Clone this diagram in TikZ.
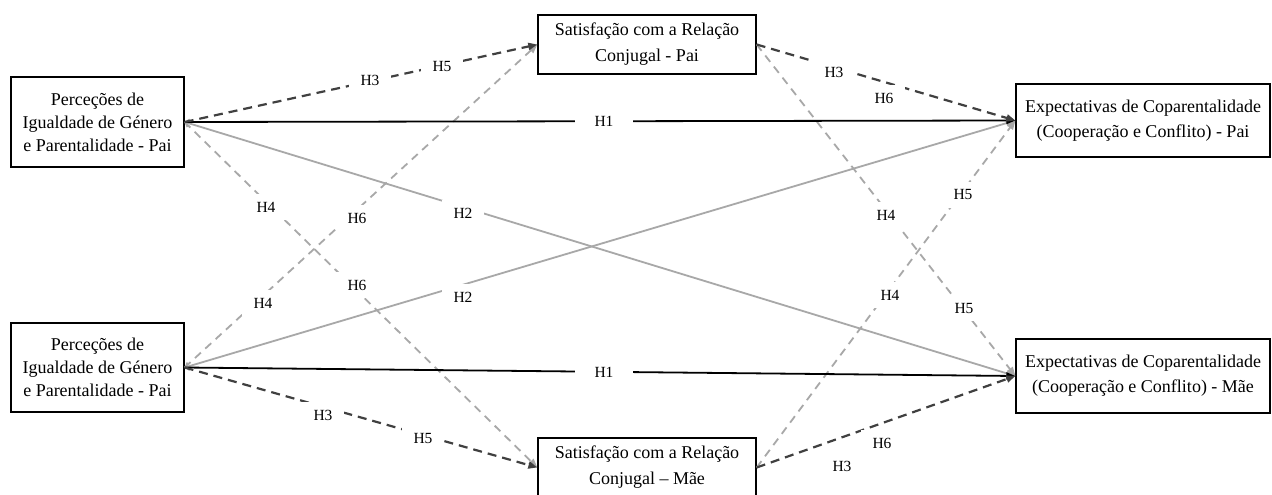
\documentclass[tikz,border=0pt]{standalone}
\usepackage{fontspec}
\setmainfont{Liberation Serif}
\usetikzlibrary{arrows.meta}
\definecolor{dk}{HTML}{404040}
\definecolor{gr}{HTML}{A8A8A8}
\begin{document}
\begin{tikzpicture}[x=1pt,y=-1pt,
 box/.style={draw=black, line width=1.3pt, fill=white, align=center, inner sep=0pt},
 lab/.style={fill=white, inner xsep=12pt, inner ysep=8pt, font=\fontsize{15.5}{17}\selectfont},
 tip/.style={-{Triangle[length=9pt,width=7pt]}},
 blk/.style={tip, line width=1.8pt, black},
 dkd/.style={tip, line width=2.2pt, dk, dash pattern=on 9pt off 6pt},
 grs/.style={{Straight Barb[length=3pt,width=8pt]}-{Triangle[length=9pt,width=7pt]}, line width=1.8pt, gr},
 grd/.style={tip, line width=1.8pt, gr, dash pattern=on 8pt off 6pt},
]
\useasboundingbox (0,0) rectangle (1272,495);
\fill[white] (0,0) rectangle (1272,495);

% boxes
\node[box, minimum width=173pt, minimum height=90pt, font=\fontsize{18}{23}\selectfont] (pt) at (97.5,122)
  {Perceções de\\Igualdade de Género\\e Parentalidade - Pai};
\node[box, minimum width=173pt, minimum height=89pt, font=\fontsize{18}{23}\selectfont] (pb) at (97.5,367.5)
  {Perceções de\\Igualdade de Género\\e Parentalidade - Pai};
\node[box, minimum width=218pt, minimum height=59pt, font=\fontsize{18}{26}\selectfont] (st) at (647,44.5)
  {Satisfação com a Relação\\Conjugal - Pai};
\node[box, minimum width=218pt, minimum height=59pt, font=\fontsize{18}{26}\selectfont] (sb) at (647,467.5)
  {Satisfação com a Relação\\Conjugal – Mãe};
\node[box, minimum width=254pt, minimum height=73pt, font=\fontsize{18}{25}\selectfont] (et) at (1143,120.5)
  {Expectativas de Coparentalidade\\(Cooperação e Conflito) - Pai};
\node[box, minimum width=254pt, minimum height=74pt, font=\fontsize{18}{25}\selectfont] (eb) at (1143,376)
  {Expectativas de Coparentalidade\\(Cooperação e Conflito) - Mãe};

% gray solid (H2)
\draw[grs] (pt.east) -- (eb.west);
\draw[grs] (pb.east) -- (et.west);
% gray dashed
\draw[grd] (pt.east) -- (sb.west);
\draw[grd] (pb.east) -- (st.west);
\draw[grd] (st.east) -- (eb.west);
\draw[grd] (sb.east) -- (et.west);
% black solid (H1)
\draw[blk] (pt.east) -- (et.west);
\draw[blk] (pb.east) -- (eb.west);
% dark dashed
\draw[dkd] (pt.east) -- (st.west);
\draw[dkd] (st.east) -- (et.west);
\draw[dkd] (pb.east) -- (sb.west);
\draw[dkd] (sb.east) -- (eb.west);

% labels
\node[lab] (l1) at (370,80) {H3};
\node[lab] (l2) at (442,67) {H5};
\node[lab, inner xsep=20pt] (l3) at (604,121) {H1};
\node[lab] (l4) at (834,72) {H3};
\node[lab] (l5) at (884,98) {H6};
\node[lab] (l6) at (266,207) {H4};
\node[lab] (l7) at (357,218) {H6};
\node[lab] (l8) at (463,213) {H2};
\node[lab] (l9) at (263,303) {H4};
\node[lab] (l10) at (357,285) {H6};
\node[lab] (l11) at (463,297) {H2};
\node[lab] (l12) at (963,195) {H5};
\node[lab] (l13) at (886,215) {H4};
\node[lab] (l14) at (890,295) {H4};
\node[lab] (l15) at (964,308) {H5};
\node[lab, inner xsep=20pt] (l16) at (604,372) {H1};
\node[lab] (l17) at (323,415) {H3};
\node[lab] (l18) at (423,438) {H5};
\node[lab] (l19) at (842,466) {H3};
\node[lab] (l20) at (882,443) {H6};
\end{tikzpicture}
\end{document}
